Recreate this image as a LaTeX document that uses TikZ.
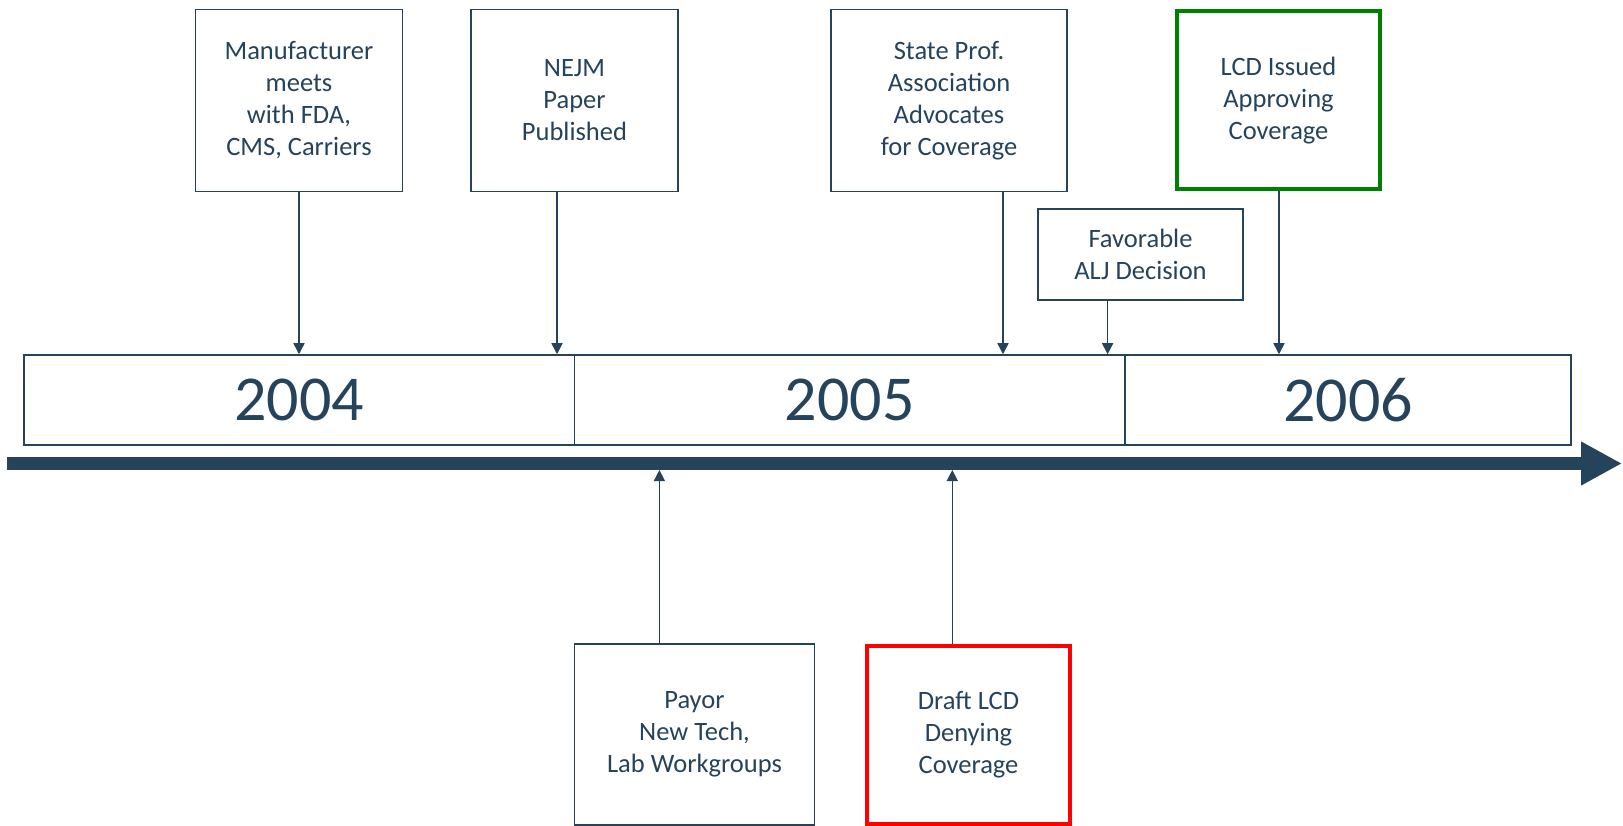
\documentclass[tikz,border=0pt]{standalone}
\usepackage{fontspec}
\setmainfont{Carlito}
\usetikzlibrary{arrows.meta}
\definecolor{navy}{RGB}{38,67,92}
\definecolor{redbox}{RGB}{255,0,0}
\definecolor{greenbox}{RGB}{0,128,0}
\tikzset{
  evbox/.style={draw=navy, line width=1.5pt, fill=white, text=navy, align=center, inner sep=0pt,
    font=\fontsize{26.5}{32}\selectfont},
  yearbox/.style={draw=navy, line width=1.5pt, text=navy, inner sep=0pt,
    minimum width=550.5pt, minimum height=90pt, font=\fontsize{64}{70}\selectfont},
  conn/.style={draw=navy, line width=1.5pt, -{Triangle[width=11pt,length=11pt]}},
}
\begin{document}
\begin{tikzpicture}[x=1pt,y=-1pt]
\useasboundingbox (0,0) rectangle (1623,826);
% year boxes
\node[yearbox, minimum width=550.7pt] (y04) at (299.15,400) {2004};
\node[yearbox, minimum width=550.5pt] (y05) at (849.75,400) {2005};
\node[yearbox, minimum width=446pt] (y06) at (1348,400) {2006};
% main timeline arrow
\coordinate (tl0) at (7,463.5);
\coordinate (tl1) at (1622,463.5);
\draw[navy, line width=13pt, -{Triangle[width=41pt,length=41pt]}] (tl0) -- (tl1);
% top events
\node[evbox, minimum width=207pt, minimum height=182pt] (man) at (299,100.4) {Manufacturer\\meets\\with FDA,\\CMS, Carriers};
\node[evbox, minimum width=207pt, minimum height=182pt] (nejm) at (574.5,100.4) {NEJM\\Paper\\Published};
\node[evbox, minimum width=236pt, minimum height=182pt] (state) at (949,100.4) {State Prof.\\Association\\Advocates\\for Coverage};
\node[evbox, draw=greenbox, line width=4pt, minimum width=203pt, minimum height=178pt] (lcd) at (1278.5,100.4) {LCD Issued\\Approving\\Coverage};
\node[evbox, minimum width=205pt, minimum height=91pt] (fav) at (1140.5,254.5) {Favorable\\ALJ Decision};
% bottom events
\node[evbox, minimum width=240pt, minimum height=181pt] (payor) at (694.5,734.5) {Payor\\New Tech,\\Lab Workgroups};
\node[evbox, draw=redbox, line width=4pt, minimum width=203pt, minimum height=178pt] (draft) at (968.5,735) {Draft LCD\\Denying\\Coverage};
% arrow x positions
\coordinate (xman) at (299,0);
\coordinate (xnejm) at (557,0);
\coordinate (xstate) at (1003,0);
\coordinate (xfav) at (1107.6,0);
\coordinate (xlcd) at (1279,0);
\coordinate (xpayor) at (659.4,0);
\coordinate (xdraft) at (952.3,0);
\coordinate (barbot) at (0,470);
% connectors down
\draw[conn] (man.south -| xman) -- (xman |- y04.north);
\draw[conn] (nejm.south -| xnejm) -- (xnejm |- y04.north);
\draw[conn] (state.south -| xstate) -- (xstate |- y05.north);
\draw[conn] (fav.south -| xfav) -- (xfav |- y05.north);
\draw[conn] (lcd.south -| xlcd) -- (xlcd |- y06.north);
% connectors up
\draw[conn] (payor.north -| xpayor) -- (xpayor |- barbot);
\draw[conn] (draft.north -| xdraft) -- (xdraft |- barbot);
\end{tikzpicture}
\end{document}
